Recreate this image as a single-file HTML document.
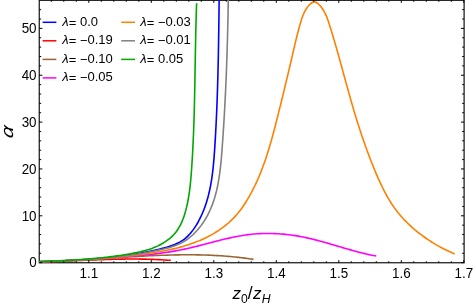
<!DOCTYPE html>
<html><head><meta charset="utf-8"><title>plot</title>
<style>html,body{margin:0;padding:0;background:#fff;}svg{display:block;will-change:transform;}text{font-family:"Liberation Sans",sans-serif;fill:#000;}</style></head>
<body>
<svg width="474" height="305" viewBox="0 0 474 305">
<rect width="474" height="305" fill="#fff"/>
<defs><clipPath id="c"><rect x="39.25" y="0.00" width="424.85" height="263.75"/></clipPath></defs>
<g stroke="#111" stroke-width="1.2" fill="none">
<rect x="39.25" y="0.30" width="424.85" height="262.45"/>
</g>
<g clip-path="url(#c)" fill="none" stroke-width="1.60" stroke-linejoin="round">
<path d="M39.46,261.70 C40.46,261.67 41.47,261.63 42.47,261.59 C43.48,261.55 44.48,261.52 45.48,261.48 C46.48,261.44 47.48,261.40 48.48,261.36 C49.48,261.32 50.48,261.29 51.48,261.25 C52.48,261.21 53.48,261.17 54.48,261.13 C55.47,261.09 56.47,261.05 57.47,261.00 C58.46,260.96 59.46,260.92 60.45,260.88 C61.45,260.84 62.44,260.79 63.44,260.75 C64.43,260.70 65.42,260.66 66.42,260.61 C67.41,260.56 68.40,260.52 69.39,260.47 C70.38,260.42 71.37,260.37 72.36,260.32 C73.35,260.27 74.34,260.21 75.33,260.16 C76.32,260.11 77.31,260.05 78.30,259.99 C79.29,259.94 80.28,259.88 81.27,259.82 C82.25,259.76 83.24,259.70 84.23,259.63 C85.21,259.57 86.20,259.50 87.19,259.44 C88.17,259.37 89.16,259.30 90.14,259.23 C91.13,259.16 92.12,259.08 93.10,259.01 C94.09,258.93 95.07,258.86 96.05,258.78 C97.04,258.69 98.02,258.61 99.01,258.53 C99.99,258.44 100.97,258.36 101.96,258.27 C102.94,258.18 103.92,258.08 104.91,257.99 C105.89,257.89 106.87,257.80 107.85,257.69 C108.84,257.59 109.82,257.49 110.80,257.38 C111.78,257.28 112.77,257.17 113.75,257.06 C114.73,256.94 115.71,256.83 116.69,256.71 C117.68,256.59 118.66,256.47 119.64,256.34 C120.62,256.22 121.60,256.09 122.59,255.96 C123.57,255.83 124.55,255.69 125.53,255.55 C126.51,255.41 127.49,255.27 128.48,255.13 C129.46,254.98 130.44,254.83 131.42,254.68 C132.40,254.52 133.38,254.36 134.37,254.20 C135.35,254.04 136.33,253.88 137.31,253.71 C138.30,253.54 139.28,253.36 140.26,253.19 C141.24,253.01 142.23,252.83 143.21,252.64 C144.19,252.45 145.17,252.26 146.16,252.07 C147.14,251.87 148.12,251.67 149.11,251.47 C150.09,251.27 151.07,251.06 152.06,250.84 C153.04,250.63 154.03,250.41 155.01,250.19 C156.00,249.97 156.98,249.74 157.97,249.51 C158.95,249.27 159.94,249.04 160.92,248.79 C161.91,248.55 162.90,248.30 163.88,248.04 C164.86,247.78 165.84,247.52 166.81,247.24 C167.78,246.95 168.75,246.66 169.71,246.35 C170.66,246.04 171.61,245.72 172.55,245.37 C173.48,245.02 174.41,244.66 175.32,244.27 C176.22,243.88 177.12,243.47 177.99,243.03 C178.87,242.59 179.73,242.13 180.57,241.63 C181.40,241.14 182.22,240.61 183.01,240.06 C183.81,239.50 184.58,238.91 185.32,238.29 C186.07,237.67 186.80,237.02 187.50,236.34 C188.21,235.67 188.89,234.96 189.55,234.24 C190.22,233.51 190.86,232.76 191.48,232.00 C192.11,231.23 192.71,230.44 193.30,229.64 C193.88,228.83 194.45,228.01 195.00,227.18 C195.55,226.34 196.09,225.49 196.60,224.64 C197.12,223.78 197.62,222.91 198.11,222.03 C198.59,221.16 199.06,220.28 199.52,219.39 C199.97,218.50 200.41,217.61 200.84,216.71 C201.27,215.82 201.68,214.91 202.08,214.01 C202.48,213.10 202.86,212.19 203.24,211.27 C203.61,210.36 203.97,209.44 204.32,208.51 C204.67,207.59 205.00,206.66 205.32,205.73 C205.65,204.80 205.96,203.86 206.26,202.92 C206.56,201.98 206.85,201.04 207.13,200.09 C207.41,199.14 207.67,198.19 207.93,197.24 C208.19,196.29 208.43,195.33 208.67,194.37 C208.91,193.41 209.14,192.45 209.35,191.48 C209.57,190.51 209.78,189.55 209.98,188.58 C210.18,187.60 210.37,186.63 210.56,185.65 C210.74,184.68 210.92,183.70 211.09,182.72 C211.25,181.74 211.41,180.75 211.57,179.77 C211.72,178.79 211.87,177.80 212.01,176.81 C212.15,175.82 212.28,174.83 212.41,173.84 C212.54,172.85 212.66,171.86 212.78,170.86 C212.89,169.87 213.00,168.87 213.11,167.88 C213.21,166.88 213.32,165.88 213.41,164.88 C213.51,163.88 213.60,162.88 213.69,161.89 C213.78,160.89 213.86,159.88 213.95,158.88 C214.03,157.88 214.11,156.88 214.18,155.88 C214.26,154.88 214.33,153.88 214.40,152.88 C214.47,151.88 214.54,150.87 214.61,149.87 C214.67,148.87 214.74,147.87 214.80,146.87 C214.87,145.87 214.93,144.87 214.99,143.87 C215.05,142.87 215.12,141.87 215.18,140.88 C215.24,139.88 215.29,138.88 215.35,137.88 C215.41,136.89 215.47,135.89 215.52,134.89 C215.58,133.90 215.63,132.90 215.69,131.90 C215.74,130.91 215.80,129.91 215.85,128.92 C215.90,127.93 215.95,126.93 216.00,125.94 C216.05,124.94 216.10,123.95 216.15,122.96 C216.20,121.96 216.25,120.97 216.29,119.98 C216.34,118.99 216.39,117.99 216.43,117.00 C216.48,116.01 216.52,115.02 216.57,114.03 C216.61,113.04 216.65,112.05 216.69,111.05 C216.73,110.06 216.78,109.07 216.82,108.08 C216.86,107.09 216.90,106.10 216.93,105.11 C216.97,104.12 217.01,103.13 217.05,102.14 C217.09,101.16 217.12,100.17 217.16,99.18 C217.19,98.19 217.23,97.20 217.26,96.21 C217.30,95.22 217.33,94.23 217.36,93.25 C217.40,92.26 217.43,91.27 217.46,90.28 C217.49,89.29 217.52,88.30 217.55,87.32 C217.58,86.33 217.61,85.34 217.64,84.35 C217.67,83.36 217.70,82.38 217.73,81.39 C217.76,80.40 217.78,79.41 217.81,78.42 C217.84,77.44 217.86,76.45 217.89,75.46 C217.92,74.47 217.94,73.48 217.97,72.50 C217.99,71.51 218.01,70.52 218.04,69.53 C218.06,68.54 218.08,67.56 218.11,66.57 C218.13,65.58 218.15,64.59 218.17,63.60 C218.20,62.61 218.22,61.63 218.24,60.64 C218.26,59.65 218.28,58.66 218.30,57.67 C218.32,56.68 218.34,55.69 218.36,54.70 C218.38,53.71 218.39,52.72 218.41,51.73 C218.43,50.74 218.45,49.75 218.47,48.76 C218.48,47.77 218.50,46.78 218.52,45.79 C218.53,44.80 218.55,43.81 218.57,42.82 C218.58,41.83 218.60,40.83 218.62,39.84 C218.63,38.85 218.65,37.86 218.66,36.86 C218.68,35.87 218.69,34.88 218.71,33.89 C218.72,32.89 218.73,31.90 218.75,30.90 C218.76,29.91 218.78,28.92 218.79,27.92 C218.80,26.93 218.82,25.93 218.83,24.93 C218.84,23.94 218.86,22.94 218.87,21.95 C218.88,20.95 218.90,19.95 218.91,18.96 C218.92,17.96 218.93,16.96 218.95,15.96 C218.96,14.96 218.97,13.96 218.98,12.96 C218.99,11.96 219.01,10.96 219.02,9.96 C219.03,8.96 219.04,7.96 219.05,6.96 C219.07,5.96 219.08,4.96 219.09,3.95 C219.10,2.95 219.11,1.95 219.13,0.94 C219.14,-0.06 219.15,-1.07 219.16,-2.07" stroke="#0000ff"/>
<path d="M39.50,261.87 C40.50,261.85 41.49,261.83 42.48,261.81 C43.47,261.79 44.47,261.76 45.46,261.74 C46.45,261.71 47.45,261.69 48.44,261.66 C49.44,261.63 50.43,261.60 51.42,261.57 C52.42,261.54 53.41,261.51 54.40,261.48 C55.40,261.45 56.39,261.41 57.39,261.38 C58.38,261.35 59.37,261.31 60.37,261.27 C61.36,261.24 62.35,261.20 63.35,261.16 C64.34,261.13 65.34,261.09 66.33,261.05 C67.32,261.01 68.32,260.97 69.31,260.93 C70.31,260.89 71.30,260.85 72.30,260.81 C73.29,260.77 74.28,260.73 75.28,260.69 C76.27,260.65 77.27,260.60 78.26,260.56 C79.26,260.52 80.25,260.48 81.24,260.44 C82.24,260.40 83.23,260.36 84.23,260.32 C85.22,260.28 86.22,260.23 87.21,260.19 C88.21,260.15 89.20,260.11 90.19,260.07 C91.19,260.03 92.18,260.00 93.18,259.96 C94.17,259.92 95.17,259.88 96.16,259.84 C97.16,259.81 98.15,259.77 99.15,259.73 C100.14,259.70 101.13,259.66 102.13,259.63 C103.12,259.60 104.12,259.56 105.11,259.53 C106.11,259.50 107.10,259.47 108.10,259.44 C109.09,259.41 110.09,259.38 111.08,259.36 C112.07,259.33 113.07,259.30 114.06,259.28 C115.06,259.26 116.05,259.23 117.05,259.21 C118.04,259.19 119.04,259.17 120.03,259.16 C121.02,259.14 122.02,259.12 123.01,259.11 C124.01,259.09 125.00,259.08 126.00,259.07 C126.99,259.06 127.98,259.06 128.98,259.05 C129.97,259.04 130.97,259.04 131.96,259.04 C132.96,259.04 133.95,259.04 134.94,259.04 C135.94,259.04 136.93,259.05 137.93,259.06 C138.92,259.07 139.91,259.08 140.91,259.09 C141.90,259.10 142.90,259.12 143.89,259.14 C144.88,259.16 145.88,259.18 146.87,259.20 C147.86,259.23 148.86,259.26 149.85,259.29 C150.85,259.32 151.84,259.35 152.83,259.39 C153.83,259.42 154.82,259.46 155.81,259.51 C156.81,259.55 157.80,259.59 158.79,259.64 C159.79,259.69 160.78,259.75 161.77,259.80 C162.77,259.86 163.76,259.92 164.75,259.98 C165.74,260.05 166.74,260.12 167.73,260.19 C168.72,260.26 169.72,260.34 170.71,260.41" stroke="#ff0000"/>
<path d="M39.52,261.73 C40.51,261.71 41.50,261.70 42.49,261.68 C43.48,261.66 44.47,261.64 45.46,261.61 C46.45,261.59 47.44,261.56 48.43,261.53 C49.42,261.51 50.41,261.48 51.40,261.45 C52.39,261.41 53.38,261.38 54.37,261.35 C55.36,261.31 56.35,261.27 57.35,261.24 C58.34,261.20 59.33,261.16 60.32,261.12 C61.31,261.08 62.30,261.03 63.29,260.99 C64.28,260.94 65.27,260.90 66.26,260.85 C67.25,260.80 68.24,260.76 69.23,260.71 C70.22,260.66 71.22,260.61 72.21,260.55 C73.20,260.50 74.19,260.45 75.18,260.39 C76.17,260.34 77.16,260.28 78.15,260.23 C79.14,260.17 80.13,260.12 81.12,260.06 C82.12,260.00 83.11,259.94 84.10,259.88 C85.09,259.82 86.08,259.76 87.07,259.70 C88.06,259.64 89.05,259.58 90.04,259.51 C91.03,259.45 92.03,259.39 93.02,259.33 C94.01,259.26 95.00,259.20 95.99,259.13 C96.98,259.07 97.97,259.01 98.96,258.94 C99.95,258.88 100.95,258.81 101.94,258.74 C102.93,258.68 103.92,258.61 104.91,258.55 C105.90,258.48 106.89,258.42 107.88,258.35 C108.88,258.28 109.87,258.22 110.86,258.15 C111.85,258.09 112.84,258.02 113.83,257.95 C114.82,257.89 115.81,257.82 116.81,257.76 C117.80,257.69 118.79,257.63 119.78,257.56 C120.77,257.50 121.76,257.43 122.75,257.37 C123.74,257.31 124.74,257.24 125.73,257.18 C126.72,257.12 127.71,257.05 128.70,256.99 C129.69,256.93 130.68,256.87 131.68,256.81 C132.67,256.75 133.66,256.69 134.65,256.63 C135.64,256.57 136.63,256.51 137.62,256.46 C138.61,256.40 139.61,256.34 140.60,256.29 C141.59,256.23 142.58,256.18 143.57,256.12 C144.56,256.07 145.55,256.02 146.54,255.97 C147.54,255.92 148.53,255.87 149.52,255.82 C150.51,255.77 151.50,255.72 152.49,255.68 C153.48,255.63 154.47,255.59 155.47,255.54 C156.46,255.50 157.45,255.46 158.44,255.42 C159.43,255.38 160.42,255.34 161.41,255.30 C162.40,255.27 163.40,255.23 164.39,255.20 C165.38,255.16 166.37,255.13 167.36,255.10 C168.35,255.07 169.34,255.04 170.33,255.02 C171.32,254.99 172.32,254.97 173.31,254.94 C174.30,254.92 175.29,254.90 176.28,254.88 C177.27,254.87 178.26,254.85 179.25,254.84 C180.24,254.82 181.24,254.81 182.23,254.80 C183.22,254.79 184.21,254.78 185.20,254.78 C186.19,254.78 187.18,254.77 188.17,254.77 C189.16,254.77 190.15,254.78 191.14,254.78 C192.14,254.79 193.13,254.79 194.12,254.80 C195.11,254.82 196.10,254.83 197.09,254.84 C198.08,254.86 199.07,254.88 200.06,254.90 C201.05,254.92 202.04,254.95 203.03,254.97 C204.02,255.00 205.01,255.03 206.00,255.06 C207.00,255.10 207.99,255.13 208.98,255.17 C209.97,255.21 210.96,255.26 211.95,255.30 C212.94,255.35 213.93,255.40 214.92,255.45 C215.91,255.50 216.90,255.56 217.89,255.62 C218.88,255.67 219.87,255.74 220.86,255.80 C221.85,255.87 222.84,255.94 223.83,256.01 C224.82,256.08 225.81,256.16 226.80,256.24 C227.79,256.32 228.78,256.41 229.77,256.49 C230.76,256.58 231.75,256.67 232.74,256.77 C233.73,256.86 234.72,256.96 235.71,257.07 C236.70,257.17 237.69,257.28 238.68,257.39 C239.67,257.50 240.66,257.61 241.65,257.73 C242.64,257.85 243.63,257.98 244.62,258.10 C245.61,258.23 246.60,258.36 247.59,258.50 C248.58,258.64 249.57,258.78 250.56,258.92 C251.55,259.07 252.53,259.22 253.52,259.37" stroke="#996633"/>
<path d="M39.51,261.75 C40.50,261.72 41.48,261.69 42.47,261.66 C43.46,261.62 44.45,261.59 45.44,261.56 C46.43,261.52 47.41,261.48 48.40,261.45 C49.39,261.41 50.38,261.37 51.37,261.33 C52.36,261.29 53.35,261.25 54.34,261.21 C55.33,261.17 56.32,261.13 57.31,261.09 C58.30,261.04 59.29,261.00 60.28,260.95 C61.27,260.91 62.26,260.86 63.25,260.81 C64.24,260.77 65.23,260.72 66.22,260.67 C67.21,260.62 68.20,260.57 69.19,260.52 C70.18,260.47 71.17,260.42 72.16,260.36 C73.15,260.31 74.15,260.26 75.14,260.20 C76.13,260.15 77.12,260.09 78.11,260.04 C79.10,259.98 80.09,259.92 81.08,259.86 C82.07,259.80 83.06,259.74 84.05,259.68 C85.05,259.62 86.04,259.56 87.03,259.50 C88.02,259.44 89.01,259.38 90.00,259.31 C90.99,259.25 91.98,259.19 92.97,259.12 C93.96,259.05 94.95,258.99 95.94,258.92 C96.93,258.85 97.92,258.79 98.91,258.72 C99.91,258.65 100.90,258.58 101.89,258.51 C102.88,258.44 103.87,258.37 104.86,258.30 C105.85,258.23 106.84,258.15 107.83,258.08 C108.82,258.01 109.81,257.93 110.79,257.86 C111.78,257.78 112.77,257.71 113.76,257.63 C114.75,257.56 115.74,257.48 116.73,257.40 C117.72,257.32 118.71,257.24 119.70,257.17 C120.68,257.09 121.67,257.01 122.66,256.93 C123.65,256.85 124.64,256.77 125.62,256.68 C126.61,256.60 127.60,256.52 128.59,256.44 C129.57,256.35 130.56,256.27 131.55,256.18 C132.54,256.10 133.52,256.01 134.51,255.93 C135.49,255.84 136.48,255.75 137.47,255.67 C138.45,255.58 139.44,255.49 140.42,255.39 C141.41,255.30 142.39,255.21 143.38,255.11 C144.36,255.02 145.34,254.92 146.33,254.82 C147.31,254.72 148.30,254.62 149.28,254.51 C150.26,254.41 151.24,254.30 152.23,254.19 C153.21,254.08 154.19,253.97 155.17,253.85 C156.15,253.74 157.13,253.62 158.12,253.50 C159.10,253.37 160.08,253.25 161.06,253.12 C162.03,252.99 163.01,252.86 163.99,252.72 C164.97,252.58 165.95,252.44 166.93,252.29 C167.90,252.15 168.88,252.00 169.86,251.84 C170.84,251.69 171.81,251.53 172.79,251.36 C173.76,251.20 174.74,251.03 175.71,250.86 C176.69,250.68 177.66,250.50 178.63,250.32 C179.61,250.13 180.58,249.94 181.55,249.75 C182.52,249.55 183.49,249.35 184.47,249.14 C185.44,248.93 186.41,248.72 187.38,248.50 C188.35,248.28 189.31,248.06 190.28,247.83 C191.25,247.61 192.22,247.37 193.19,247.14 C194.16,246.90 195.12,246.67 196.09,246.42 C197.06,246.18 198.02,245.94 198.99,245.69 C199.96,245.45 200.92,245.20 201.89,244.95 C202.86,244.70 203.82,244.45 204.79,244.20 C205.75,243.95 206.72,243.69 207.68,243.44 C208.65,243.19 209.61,242.93 210.58,242.68 C211.55,242.43 212.51,242.18 213.48,241.93 C214.44,241.68 215.41,241.43 216.37,241.18 C217.34,240.94 218.31,240.69 219.27,240.45 C220.24,240.21 221.20,239.97 222.17,239.73 C223.14,239.49 224.10,239.26 225.07,239.03 C226.04,238.80 227.01,238.58 227.97,238.36 C228.94,238.14 229.91,237.92 230.88,237.71 C231.85,237.50 232.82,237.29 233.79,237.09 C234.76,236.90 235.73,236.70 236.70,236.52 C237.67,236.33 238.64,236.15 239.61,235.98 C240.58,235.81 241.56,235.64 242.53,235.49 C243.50,235.33 244.48,235.18 245.45,235.04 C246.43,234.90 247.40,234.77 248.38,234.65 C249.36,234.53 250.33,234.42 251.31,234.31 C252.29,234.21 253.27,234.12 254.25,234.03 C255.23,233.95 256.21,233.87 257.19,233.81 C258.17,233.74 259.15,233.68 260.13,233.64 C261.12,233.59 262.10,233.55 263.08,233.52 C264.06,233.49 265.05,233.47 266.03,233.46 C267.01,233.44 267.99,233.44 268.98,233.45 C269.96,233.45 270.95,233.47 271.93,233.49 C272.91,233.51 273.90,233.54 274.88,233.58 C275.86,233.62 276.85,233.67 277.83,233.73 C278.81,233.79 279.80,233.85 280.78,233.93 C281.76,234.00 282.74,234.08 283.73,234.17 C284.71,234.26 285.69,234.36 286.67,234.47 C287.65,234.58 288.63,234.69 289.61,234.82 C290.59,234.94 291.57,235.07 292.55,235.21 C293.53,235.35 294.51,235.50 295.49,235.65 C296.46,235.81 297.44,235.97 298.41,236.14 C299.39,236.32 300.37,236.50 301.34,236.68 C302.31,236.87 303.29,237.06 304.26,237.27 C305.23,237.47 306.20,237.68 307.17,237.89 C308.14,238.11 309.11,238.33 310.08,238.55 C311.05,238.78 312.01,239.02 312.98,239.25 C313.95,239.49 314.91,239.74 315.88,239.98 C316.84,240.23 317.81,240.49 318.77,240.74 C319.74,241.00 320.70,241.26 321.66,241.52 C322.62,241.79 323.59,242.06 324.55,242.33 C325.51,242.60 326.47,242.87 327.43,243.14 C328.39,243.42 329.35,243.70 330.31,243.98 C331.27,244.26 332.23,244.54 333.19,244.82 C334.15,245.10 335.10,245.38 336.06,245.66 C337.02,245.95 337.98,246.23 338.94,246.51 C339.89,246.80 340.85,247.08 341.81,247.36 C342.76,247.64 343.72,247.92 344.68,248.20 C345.63,248.48 346.59,248.76 347.55,249.04 C348.50,249.31 349.46,249.58 350.42,249.86 C351.37,250.13 352.33,250.39 353.28,250.66 C354.24,250.92 355.20,251.19 356.15,251.44 C357.11,251.70 358.06,251.96 359.02,252.20 C359.98,252.45 360.93,252.70 361.89,252.94 C362.85,253.18 363.80,253.41 364.76,253.64 C365.72,253.87 366.67,254.09 367.63,254.31 C368.59,254.52 369.55,254.73 370.51,254.94 C371.46,255.14 372.42,255.34 373.38,255.53 C374.34,255.71 375.30,255.89 376.26,256.07" stroke="#ff00ff"/>
<path d="M39.50,261.71 C40.49,261.68 41.49,261.64 42.48,261.60 C43.48,261.57 44.48,261.53 45.47,261.49 C46.47,261.46 47.47,261.42 48.46,261.38 C49.46,261.34 50.46,261.30 51.45,261.27 C52.45,261.23 53.44,261.19 54.44,261.15 C55.44,261.11 56.43,261.07 57.43,261.03 C58.42,260.99 59.42,260.94 60.41,260.90 C61.41,260.86 62.41,260.82 63.40,260.77 C64.40,260.73 65.39,260.68 66.39,260.64 C67.38,260.59 68.38,260.55 69.37,260.50 C70.37,260.45 71.36,260.41 72.36,260.36 C73.35,260.31 74.35,260.26 75.34,260.21 C76.34,260.16 77.33,260.10 78.32,260.05 C79.32,260.00 80.31,259.94 81.31,259.89 C82.30,259.83 83.30,259.78 84.29,259.72 C85.28,259.66 86.28,259.60 87.27,259.54 C88.26,259.48 89.26,259.42 90.25,259.35 C91.25,259.29 92.24,259.23 93.23,259.16 C94.23,259.09 95.22,259.02 96.21,258.96 C97.20,258.89 98.20,258.81 99.19,258.74 C100.18,258.67 101.17,258.60 102.17,258.52 C103.16,258.44 104.15,258.37 105.14,258.29 C106.14,258.21 107.13,258.13 108.12,258.04 C109.11,257.96 110.10,257.87 111.09,257.79 C112.09,257.70 113.08,257.61 114.07,257.52 C115.06,257.43 116.05,257.34 117.04,257.24 C118.03,257.15 119.02,257.05 120.01,256.95 C121.00,256.85 122.00,256.75 122.99,256.65 C123.98,256.54 124.97,256.44 125.96,256.33 C126.95,256.22 127.94,256.11 128.92,256.00 C129.91,255.88 130.90,255.77 131.89,255.65 C132.88,255.53 133.87,255.41 134.86,255.29 C135.85,255.17 136.84,255.04 137.83,254.91 C138.81,254.79 139.80,254.66 140.79,254.52 C141.78,254.39 142.77,254.25 143.75,254.11 C144.74,253.98 145.73,253.83 146.72,253.69 C147.70,253.55 148.69,253.40 149.68,253.25 C150.66,253.10 151.65,252.95 152.64,252.79 C153.62,252.63 154.61,252.47 155.60,252.31 C156.58,252.15 157.57,251.98 158.55,251.81 C159.53,251.64 160.52,251.46 161.50,251.28 C162.48,251.10 163.46,250.92 164.44,250.73 C165.42,250.54 166.40,250.34 167.38,250.14 C168.35,249.94 169.33,249.74 170.30,249.52 C171.28,249.31 172.25,249.09 173.22,248.87 C174.19,248.64 175.16,248.41 176.12,248.17 C177.09,247.94 178.06,247.69 179.02,247.44 C179.98,247.18 180.94,246.92 181.90,246.66 C182.85,246.39 183.81,246.11 184.76,245.83 C185.71,245.54 186.66,245.25 187.61,244.95 C188.55,244.65 189.50,244.34 190.44,244.02 C191.38,243.70 192.32,243.37 193.25,243.03 C194.18,242.69 195.11,242.34 196.04,241.99 C196.97,241.63 197.89,241.26 198.81,240.88 C199.73,240.50 200.64,240.11 201.56,239.71 C202.47,239.31 203.37,238.90 204.28,238.47 C205.18,238.05 206.08,237.62 206.97,237.17 C207.86,236.73 208.75,236.27 209.63,235.80 C210.51,235.33 211.38,234.85 212.25,234.36 C213.12,233.87 213.98,233.37 214.83,232.85 C215.68,232.34 216.53,231.81 217.37,231.27 C218.20,230.73 219.03,230.18 219.85,229.61 C220.67,229.05 221.49,228.47 222.29,227.88 C223.09,227.29 223.89,226.69 224.67,226.08 C225.45,225.46 226.22,224.83 226.99,224.19 C227.75,223.55 228.50,222.90 229.24,222.23 C229.98,221.57 230.71,220.89 231.43,220.20 C232.15,219.51 232.85,218.81 233.55,218.09 C234.24,217.37 234.92,216.65 235.59,215.91 C236.26,215.17 236.92,214.42 237.56,213.65 C238.20,212.89 238.83,212.11 239.45,211.33 C240.06,210.54 240.66,209.74 241.25,208.94 C241.84,208.13 242.42,207.31 242.98,206.49 C243.55,205.66 244.10,204.83 244.64,203.99 C245.19,203.15 245.72,202.31 246.25,201.46 C246.77,200.61 247.29,199.76 247.80,198.90 C248.31,198.04 248.81,197.18 249.30,196.32 C249.79,195.45 250.27,194.59 250.75,193.71 C251.23,192.84 251.69,191.97 252.16,191.09 C252.62,190.21 253.07,189.32 253.51,188.44 C253.96,187.55 254.40,186.66 254.83,185.77 C255.26,184.88 255.69,183.98 256.10,183.08 C256.52,182.18 256.93,181.28 257.34,180.37 C257.74,179.47 258.14,178.56 258.53,177.65 C258.92,176.74 259.31,175.82 259.69,174.90 C260.06,173.99 260.44,173.07 260.81,172.15 C261.17,171.22 261.53,170.30 261.89,169.37 C262.25,168.44 262.60,167.51 262.94,166.58 C263.29,165.65 263.63,164.72 263.96,163.78 C264.30,162.84 264.63,161.90 264.96,160.96 C265.28,160.02 265.60,159.08 265.92,158.14 C266.24,157.19 266.55,156.24 266.86,155.30 C267.16,154.35 267.47,153.40 267.77,152.45 C268.07,151.50 268.36,150.54 268.66,149.59 C268.95,148.63 269.24,147.68 269.52,146.72 C269.81,145.76 270.09,144.80 270.37,143.84 C270.65,142.88 270.92,141.92 271.20,140.96 C271.47,140.00 271.74,139.04 272.01,138.07 C272.27,137.11 272.54,136.14 272.80,135.18 C273.06,134.21 273.32,133.25 273.58,132.28 C273.84,131.31 274.09,130.34 274.35,129.38 C274.60,128.41 274.86,127.44 275.11,126.47 C275.36,125.50 275.61,124.53 275.85,123.56 C276.10,122.59 276.35,121.62 276.59,120.65 C276.84,119.69 277.08,118.72 277.33,117.75 C277.57,116.78 277.81,115.81 278.06,114.84 C278.30,113.87 278.54,112.90 278.78,111.93 C279.02,110.96 279.26,109.99 279.50,109.03 C279.74,108.06 279.98,107.09 280.22,106.12 C280.46,105.15 280.70,104.19 280.94,103.22 C281.18,102.25 281.42,101.28 281.65,100.31 C281.89,99.35 282.13,98.38 282.36,97.41 C282.60,96.45 282.84,95.48 283.07,94.51 C283.31,93.55 283.54,92.58 283.78,91.61 C284.01,90.65 284.25,89.68 284.48,88.71 C284.71,87.75 284.95,86.78 285.18,85.81 C285.41,84.85 285.64,83.88 285.88,82.91 C286.11,81.95 286.34,80.98 286.57,80.01 C286.80,79.05 287.03,78.08 287.26,77.12 C287.49,76.15 287.72,75.18 287.95,74.22 C288.18,73.25 288.41,72.28 288.64,71.32 C288.87,70.35 289.09,69.38 289.32,68.42 C289.55,67.45 289.78,66.49 290.00,65.52 C290.23,64.55 290.46,63.59 290.68,62.62 C290.91,61.65 291.14,60.69 291.36,59.72 C291.59,58.75 291.81,57.78 292.04,56.82 C292.26,55.85 292.48,54.88 292.71,53.91 C292.93,52.95 293.16,51.98 293.38,51.01 C293.60,50.04 293.83,49.08 294.05,48.11 C294.28,47.14 294.51,46.17 294.73,45.20 C294.96,44.24 295.19,43.27 295.42,42.30 C295.65,41.33 295.89,40.36 296.12,39.40 C296.36,38.43 296.60,37.46 296.84,36.49 C297.08,35.52 297.33,34.56 297.57,33.59 C297.82,32.62 298.07,31.65 298.33,30.69 C298.59,29.72 298.85,28.75 299.11,27.78 C299.38,26.82 299.64,25.85 299.92,24.88 C300.19,23.92 300.47,22.95 300.76,21.98 C301.05,21.02 301.34,20.05 301.65,19.10 C301.97,18.14 302.29,17.19 302.65,16.25 C303.00,15.32 303.37,14.39 303.78,13.48 C304.19,12.57 304.63,11.67 305.11,10.80 C305.59,9.92 306.11,9.07 306.68,8.24 C307.25,7.41 307.86,6.60 308.53,5.84 C309.20,5.07 309.91,4.27 310.70,3.65 C311.45,3.05 312.27,2.39 313.11,2.14 C313.91,1.91 314.81,1.91 315.60,2.13 C316.44,2.37 317.26,3.02 318.01,3.62 C318.80,4.25 319.52,5.08 320.20,5.86 C320.88,6.64 321.51,7.46 322.11,8.29 C322.69,9.12 323.24,9.97 323.75,10.84 C324.26,11.70 324.72,12.58 325.17,13.48 C325.61,14.37 326.01,15.28 326.40,16.19 C326.79,17.11 327.15,18.04 327.49,18.97 C327.84,19.90 328.16,20.84 328.48,21.79 C328.80,22.73 329.11,23.68 329.41,24.63 C329.71,25.58 330.01,26.53 330.31,27.48 C330.61,28.44 330.90,29.39 331.20,30.34 C331.49,31.29 331.78,32.25 332.07,33.20 C332.36,34.16 332.65,35.11 332.94,36.06 C333.22,37.02 333.51,37.98 333.79,38.93 C334.07,39.89 334.36,40.84 334.64,41.80 C334.92,42.76 335.19,43.72 335.47,44.67 C335.75,45.63 336.02,46.59 336.30,47.55 C336.57,48.51 336.84,49.46 337.12,50.42 C337.39,51.38 337.66,52.34 337.93,53.30 C338.20,54.26 338.47,55.22 338.74,56.18 C339.00,57.14 339.27,58.10 339.54,59.06 C339.80,60.02 340.07,60.98 340.33,61.95 C340.60,62.91 340.86,63.87 341.13,64.83 C341.39,65.79 341.66,66.75 341.92,67.71 C342.18,68.67 342.45,69.63 342.71,70.60 C342.97,71.56 343.23,72.52 343.50,73.48 C343.76,74.44 344.02,75.40 344.28,76.36 C344.55,77.33 344.81,78.29 345.07,79.25 C345.34,80.21 345.60,81.17 345.86,82.13 C346.13,83.09 346.39,84.05 346.65,85.01 C346.92,85.97 347.18,86.93 347.45,87.89 C347.71,88.85 347.98,89.81 348.25,90.77 C348.51,91.73 348.78,92.69 349.05,93.65 C349.32,94.61 349.59,95.57 349.86,96.53 C350.13,97.48 350.40,98.44 350.67,99.40 C350.94,100.36 351.22,101.31 351.49,102.27 C351.77,103.23 352.04,104.18 352.32,105.14 C352.60,106.09 352.88,107.05 353.16,108.00 C353.44,108.96 353.72,109.91 354.00,110.87 C354.29,111.82 354.57,112.77 354.86,113.73 C355.15,114.68 355.44,115.63 355.73,116.58 C356.02,117.53 356.31,118.48 356.60,119.43 C356.90,120.38 357.20,121.33 357.49,122.28 C357.79,123.23 358.09,124.18 358.39,125.12 C358.70,126.07 359.00,127.02 359.31,127.96 C359.61,128.91 359.92,129.86 360.23,130.80 C360.54,131.75 360.86,132.69 361.17,133.63 C361.49,134.58 361.80,135.52 362.12,136.46 C362.44,137.40 362.76,138.34 363.09,139.29 C363.41,140.23 363.74,141.17 364.07,142.11 C364.39,143.04 364.73,143.98 365.06,144.92 C365.39,145.86 365.73,146.80 366.07,147.73 C366.40,148.67 366.75,149.60 367.09,150.54 C367.43,151.47 367.78,152.41 368.13,153.34 C368.47,154.28 368.83,155.21 369.18,156.14 C369.53,157.07 369.89,158.00 370.25,158.94 C370.61,159.87 370.97,160.80 371.33,161.72 C371.70,162.65 372.07,163.58 372.44,164.51 C372.81,165.44 373.18,166.36 373.55,167.29 C373.93,168.22 374.31,169.14 374.69,170.07 C375.07,170.99 375.46,171.91 375.85,172.84 C376.23,173.76 376.62,174.68 377.02,175.60 C377.42,176.52 377.82,177.44 378.22,178.35 C378.62,179.27 379.03,180.18 379.45,181.09 C379.86,182.00 380.28,182.91 380.70,183.81 C381.13,184.72 381.56,185.62 382.00,186.52 C382.43,187.42 382.87,188.31 383.32,189.20 C383.77,190.09 384.23,190.98 384.69,191.86 C385.16,192.74 385.63,193.62 386.11,194.49 C386.59,195.36 387.07,196.23 387.57,197.09 C388.06,197.96 388.56,198.81 389.08,199.66 C389.59,200.51 390.11,201.36 390.64,202.20 C391.17,203.03 391.71,203.87 392.26,204.69 C392.81,205.52 393.37,206.34 393.94,207.15 C394.51,207.96 395.09,208.76 395.68,209.56 C396.27,210.35 396.88,211.14 397.49,211.92 C398.11,212.70 398.73,213.47 399.37,214.23 C400.00,215.00 400.65,215.75 401.31,216.50 C401.96,217.25 402.63,217.99 403.31,218.72 C403.98,219.45 404.67,220.17 405.36,220.89 C406.06,221.60 406.76,222.31 407.47,223.01 C408.19,223.71 408.91,224.40 409.63,225.08 C410.36,225.76 411.10,226.44 411.84,227.11 C412.59,227.77 413.34,228.43 414.10,229.08 C414.86,229.73 415.62,230.37 416.39,231.01 C417.16,231.64 417.94,232.27 418.73,232.88 C419.51,233.50 420.30,234.11 421.10,234.71 C421.89,235.31 422.69,235.91 423.50,236.49 C424.31,237.08 425.12,237.65 425.94,238.22 C426.75,238.79 427.58,239.35 428.41,239.90 C429.23,240.45 430.07,241.00 430.91,241.53 C431.74,242.07 432.59,242.60 433.44,243.12 C434.28,243.64 435.14,244.15 436.00,244.65 C436.85,245.15 437.72,245.65 438.59,246.13 C439.45,246.62 440.33,247.10 441.21,247.57 C442.08,248.04 442.96,248.50 443.85,248.95 C444.74,249.41 445.63,249.85 446.53,250.29 C447.42,250.73 448.32,251.15 449.23,251.57 C450.13,252.00 451.04,252.41 451.95,252.81 C452.86,253.22 453.79,253.60 454.70,254.00" stroke="#ff8000"/>
<path d="M39.49,261.70 C40.49,261.66 41.49,261.63 42.49,261.59 C43.50,261.56 44.50,261.52 45.50,261.49 C46.50,261.45 47.50,261.42 48.50,261.38 C49.51,261.34 50.51,261.31 51.51,261.27 C52.51,261.23 53.51,261.19 54.51,261.15 C55.51,261.11 56.51,261.07 57.51,261.03 C58.51,260.99 59.51,260.95 60.51,260.91 C61.51,260.86 62.51,260.82 63.51,260.77 C64.51,260.73 65.51,260.68 66.51,260.64 C67.50,260.59 68.50,260.54 69.50,260.49 C70.50,260.44 71.50,260.39 72.49,260.34 C73.49,260.29 74.49,260.23 75.49,260.18 C76.48,260.12 77.48,260.07 78.48,260.01 C79.47,259.95 80.47,259.89 81.47,259.83 C82.46,259.77 83.46,259.71 84.46,259.64 C85.45,259.58 86.45,259.51 87.44,259.44 C88.44,259.38 89.43,259.31 90.43,259.24 C91.42,259.16 92.42,259.09 93.41,259.01 C94.41,258.94 95.40,258.86 96.40,258.78 C97.39,258.70 98.38,258.62 99.38,258.54 C100.37,258.45 101.37,258.37 102.36,258.28 C103.35,258.19 104.34,258.10 105.34,258.00 C106.33,257.91 107.32,257.82 108.32,257.72 C109.31,257.62 110.30,257.52 111.29,257.42 C112.28,257.31 113.28,257.21 114.27,257.10 C115.26,256.99 116.25,256.88 117.24,256.76 C118.23,256.65 119.22,256.53 120.21,256.41 C121.20,256.29 122.19,256.17 123.18,256.05 C124.18,255.92 125.17,255.79 126.15,255.66 C127.14,255.53 128.13,255.39 129.12,255.26 C130.11,255.12 131.10,254.98 132.09,254.83 C133.08,254.69 134.07,254.54 135.06,254.39 C136.05,254.24 137.03,254.09 138.02,253.93 C139.01,253.77 140.00,253.61 140.99,253.44 C141.97,253.28 142.96,253.11 143.95,252.94 C144.94,252.77 145.92,252.59 146.91,252.41 C147.90,252.23 148.88,252.05 149.87,251.86 C150.86,251.68 151.84,251.49 152.83,251.29 C153.82,251.10 154.80,250.90 155.79,250.70 C156.77,250.49 157.76,250.29 158.74,250.08 C159.73,249.87 160.71,249.65 161.70,249.43 C162.68,249.21 163.66,248.99 164.64,248.75 C165.62,248.51 166.60,248.27 167.57,248.01 C168.55,247.76 169.52,247.49 170.48,247.20 C171.44,246.92 172.39,246.62 173.34,246.30 C174.29,245.98 175.22,245.64 176.15,245.28 C177.08,244.92 178.00,244.54 178.91,244.14 C179.81,243.73 180.71,243.30 181.59,242.84 C182.47,242.37 183.34,241.88 184.19,241.37 C185.05,240.85 185.89,240.30 186.71,239.73 C187.53,239.16 188.34,238.56 189.13,237.94 C189.93,237.32 190.70,236.67 191.46,236.01 C192.22,235.34 192.97,234.66 193.70,233.96 C194.42,233.25 195.14,232.53 195.83,231.80 C196.52,231.06 197.20,230.31 197.86,229.55 C198.52,228.79 199.16,228.01 199.78,227.23 C200.40,226.44 201.01,225.65 201.60,224.85 C202.18,224.04 202.75,223.23 203.30,222.41 C203.85,221.59 204.39,220.76 204.90,219.92 C205.42,219.09 205.92,218.24 206.41,217.39 C206.89,216.54 207.36,215.67 207.81,214.81 C208.27,213.94 208.70,213.06 209.13,212.18 C209.55,211.30 209.96,210.41 210.35,209.51 C210.74,208.61 211.12,207.71 211.49,206.80 C211.86,205.89 212.21,204.98 212.55,204.05 C212.89,203.13 213.21,202.20 213.53,201.27 C213.84,200.34 214.14,199.40 214.43,198.46 C214.72,197.51 215.00,196.56 215.27,195.61 C215.54,194.65 215.79,193.69 216.04,192.73 C216.29,191.77 216.52,190.80 216.75,189.83 C216.97,188.85 217.19,187.88 217.40,186.90 C217.60,185.92 217.80,184.94 217.99,183.95 C218.18,182.96 218.36,181.97 218.53,180.98 C218.71,179.98 218.87,178.99 219.03,177.99 C219.19,176.99 219.34,175.99 219.48,174.98 C219.62,173.98 219.76,172.97 219.89,171.97 C220.02,170.96 220.14,169.95 220.26,168.94 C220.38,167.92 220.50,166.91 220.61,165.90 C220.72,164.88 220.82,163.87 220.92,162.85 C221.02,161.84 221.12,160.82 221.21,159.80 C221.30,158.78 221.39,157.77 221.47,156.75 C221.56,155.73 221.64,154.71 221.72,153.69 C221.81,152.68 221.88,151.66 221.96,150.64 C222.04,149.63 222.11,148.61 222.19,147.59 C222.26,146.58 222.33,145.57 222.40,144.55 C222.48,143.54 222.55,142.53 222.62,141.52 C222.69,140.51 222.76,139.50 222.83,138.49 C222.90,137.48 222.97,136.48 223.03,135.47 C223.10,134.46 223.17,133.46 223.23,132.45 C223.30,131.45 223.36,130.44 223.43,129.44 C223.49,128.44 223.56,127.44 223.62,126.44 C223.68,125.44 223.74,124.44 223.81,123.44 C223.87,122.44 223.93,121.44 223.99,120.44 C224.05,119.44 224.11,118.45 224.16,117.45 C224.22,116.45 224.28,115.46 224.34,114.46 C224.39,113.47 224.45,112.47 224.51,111.48 C224.56,110.49 224.62,109.49 224.67,108.50 C224.72,107.51 224.78,106.52 224.83,105.52 C224.88,104.53 224.94,103.54 224.99,102.55 C225.04,101.56 225.09,100.57 225.14,99.58 C225.19,98.59 225.24,97.60 225.29,96.61 C225.34,95.62 225.38,94.63 225.43,93.64 C225.48,92.65 225.53,91.66 225.57,90.68 C225.62,89.69 225.66,88.70 225.71,87.71 C225.75,86.72 225.80,85.74 225.84,84.75 C225.89,83.76 225.93,82.77 225.97,81.79 C226.01,80.80 226.05,79.81 226.10,78.82 C226.14,77.84 226.18,76.85 226.22,75.86 C226.26,74.87 226.30,73.89 226.34,72.90 C226.38,71.91 226.41,70.92 226.45,69.94 C226.49,68.95 226.53,67.96 226.56,66.97 C226.60,65.98 226.64,65.00 226.67,64.01 C226.71,63.02 226.74,62.03 226.78,61.04 C226.81,60.05 226.84,59.06 226.88,58.07 C226.91,57.08 226.94,56.09 226.98,55.10 C227.01,54.11 227.04,53.12 227.07,52.13 C227.10,51.14 227.13,50.15 227.16,49.15 C227.19,48.16 227.22,47.17 227.25,46.17 C227.28,45.18 227.31,44.19 227.34,43.19 C227.37,42.20 227.40,41.20 227.42,40.21 C227.45,39.21 227.48,38.21 227.50,37.22 C227.53,36.22 227.56,35.22 227.58,34.22 C227.61,33.22 227.63,32.22 227.66,31.22 C227.68,30.22 227.71,29.22 227.73,28.22 C227.75,27.22 227.78,26.22 227.80,25.21 C227.82,24.21 227.85,23.20 227.87,22.20 C227.89,21.19 227.91,20.18 227.93,19.18 C227.95,18.17 227.98,17.16 228.00,16.15 C228.02,15.14 228.04,14.13 228.06,13.12 C228.08,12.11 228.10,11.09 228.11,10.08 C228.13,9.06 228.15,8.05 228.17,7.03 C228.19,6.02 228.21,5.00 228.22,3.98 C228.24,2.96 228.26,1.94 228.28,0.92 C228.29,-0.11 228.31,-1.13 228.33,-2.15" stroke="#808080"/>
<path d="M39.47,261.62 C40.49,261.58 41.50,261.54 42.51,261.50 C43.52,261.46 44.53,261.42 45.54,261.38 C46.55,261.33 47.55,261.29 48.56,261.25 C49.57,261.21 50.57,261.17 51.58,261.12 C52.58,261.08 53.58,261.04 54.58,260.99 C55.59,260.95 56.59,260.90 57.59,260.86 C58.59,260.81 59.59,260.76 60.58,260.72 C61.58,260.67 62.58,260.62 63.58,260.57 C64.57,260.52 65.57,260.47 66.56,260.41 C67.56,260.36 68.55,260.31 69.55,260.25 C70.54,260.20 71.53,260.14 72.53,260.08 C73.52,260.02 74.51,259.96 75.50,259.90 C76.49,259.84 77.49,259.77 78.48,259.71 C79.47,259.64 80.46,259.58 81.45,259.51 C82.44,259.44 83.43,259.37 84.42,259.29 C85.41,259.22 86.39,259.14 87.38,259.06 C88.37,258.98 89.36,258.90 90.35,258.82 C91.34,258.74 92.33,258.65 93.32,258.56 C94.30,258.47 95.29,258.38 96.28,258.29 C97.27,258.19 98.26,258.10 99.25,258.00 C100.23,257.90 101.22,257.80 102.21,257.69 C103.20,257.58 104.19,257.47 105.18,257.36 C106.17,257.25 107.16,257.13 108.15,257.02 C109.14,256.90 110.13,256.77 111.12,256.65 C112.11,256.52 113.10,256.39 114.09,256.26 C115.08,256.13 116.07,255.99 117.06,255.85 C118.06,255.71 119.05,255.56 120.04,255.42 C121.04,255.27 122.03,255.11 123.02,254.96 C124.02,254.80 125.01,254.64 126.01,254.47 C127.01,254.31 128.00,254.14 129.00,253.97 C130.00,253.79 131.00,253.61 131.99,253.43 C132.99,253.25 133.99,253.06 134.99,252.86 C135.98,252.66 136.98,252.46 137.97,252.25 C138.97,252.03 139.96,251.81 140.95,251.58 C141.93,251.35 142.92,251.10 143.90,250.85 C144.87,250.59 145.85,250.32 146.81,250.04 C147.78,249.76 148.74,249.46 149.70,249.15 C150.65,248.83 151.59,248.51 152.53,248.16 C153.47,247.81 154.40,247.45 155.31,247.07 C156.23,246.68 157.14,246.28 158.04,245.86 C158.93,245.43 159.82,244.99 160.69,244.52 C161.56,244.05 162.42,243.56 163.27,243.05 C164.11,242.54 164.94,242.01 165.76,241.45 C166.57,240.89 167.37,240.31 168.14,239.71 C168.92,239.11 169.68,238.49 170.42,237.84 C171.15,237.19 171.87,236.52 172.56,235.83 C173.25,235.14 173.92,234.43 174.56,233.69 C175.21,232.96 175.82,232.20 176.41,231.42 C177.00,230.64 177.56,229.84 178.10,229.01 C178.63,228.19 179.13,227.34 179.61,226.48 C180.09,225.62 180.55,224.74 180.98,223.84 C181.41,222.95 181.81,222.03 182.20,221.11 C182.59,220.19 182.95,219.25 183.30,218.31 C183.64,217.36 183.97,216.40 184.28,215.44 C184.59,214.48 184.89,213.51 185.17,212.54 C185.45,211.57 185.71,210.59 185.97,209.61 C186.22,208.63 186.46,207.65 186.69,206.67 C186.92,205.69 187.14,204.71 187.35,203.73 C187.56,202.74 187.76,201.76 187.95,200.77 C188.13,199.78 188.31,198.80 188.48,197.81 C188.65,196.82 188.81,195.83 188.96,194.84 C189.12,193.85 189.26,192.86 189.40,191.87 C189.53,190.87 189.66,189.88 189.79,188.89 C189.91,187.89 190.03,186.90 190.14,185.90 C190.25,184.91 190.35,183.91 190.45,182.92 C190.55,181.92 190.64,180.93 190.73,179.93 C190.83,178.93 190.91,177.93 190.99,176.94 C191.08,175.94 191.16,174.94 191.23,173.94 C191.31,172.94 191.38,171.95 191.46,170.95 C191.53,169.95 191.60,168.95 191.67,167.95 C191.74,166.96 191.80,165.96 191.87,164.96 C191.94,163.96 192.00,162.96 192.06,161.97 C192.13,160.97 192.19,159.97 192.25,158.97 C192.31,157.97 192.37,156.98 192.43,155.98 C192.48,154.98 192.54,153.98 192.59,152.98 C192.65,151.99 192.70,150.99 192.75,149.99 C192.81,148.99 192.86,147.99 192.91,147.00 C192.96,146.00 193.01,145.00 193.05,144.00 C193.10,143.00 193.15,142.01 193.19,141.01 C193.24,140.01 193.28,139.01 193.32,138.01 C193.37,137.02 193.41,136.02 193.45,135.02 C193.49,134.02 193.53,133.02 193.57,132.03 C193.61,131.03 193.64,130.03 193.68,129.03 C193.72,128.03 193.75,127.04 193.79,126.04 C193.82,125.04 193.86,124.04 193.89,123.04 C193.92,122.05 193.96,121.05 193.99,120.05 C194.02,119.05 194.05,118.05 194.08,117.06 C194.11,116.06 194.14,115.06 194.17,114.06 C194.20,113.07 194.22,112.07 194.25,111.07 C194.28,110.07 194.30,109.07 194.33,108.08 C194.36,107.08 194.38,106.08 194.40,105.08 C194.43,104.08 194.45,103.09 194.48,102.09 C194.50,101.09 194.52,100.09 194.55,99.09 C194.57,98.09 194.59,97.10 194.61,96.10 C194.63,95.10 194.65,94.10 194.67,93.10 C194.69,92.11 194.71,91.11 194.73,90.11 C194.75,89.11 194.77,88.11 194.79,87.12 C194.81,86.12 194.83,85.12 194.85,84.12 C194.87,83.12 194.88,82.12 194.90,81.13 C194.92,80.13 194.94,79.13 194.95,78.13 C194.97,77.13 194.99,76.13 195.01,75.14 C195.02,74.14 195.04,73.14 195.06,72.14 C195.07,71.14 195.09,70.14 195.11,69.15 C195.12,68.15 195.14,67.15 195.16,66.15 C195.17,65.15 195.19,64.15 195.21,63.15 C195.23,62.16 195.24,61.16 195.26,60.16 C195.28,59.16 195.29,58.16 195.31,57.16 C195.33,56.16 195.34,55.16 195.36,54.17 C195.38,53.17 195.40,52.17 195.41,51.17 C195.43,50.17 195.45,49.17 195.47,48.17 C195.49,47.17 195.50,46.17 195.52,45.18 C195.54,44.18 195.56,43.18 195.58,42.18 C195.60,41.18 195.62,40.18 195.64,39.18 C195.66,38.18 195.68,37.18 195.70,36.18 C195.72,35.18 195.74,34.19 195.77,33.19 C195.79,32.19 195.81,31.19 195.83,30.19 C195.86,29.19 195.88,28.19 195.90,27.19 C195.93,26.19 195.95,25.19 195.98,24.19 C196.00,23.19 196.03,22.19 196.06,21.19 C196.08,20.19 196.11,19.19 196.14,18.19 C196.17,17.19 196.19,16.19 196.22,15.19 C196.25,14.19 196.28,13.19 196.31,12.19 C196.35,11.19 196.38,10.19 196.41,9.19 C196.44,8.19 196.48,7.19 196.51,6.19 C196.54,5.19 196.58,4.19 196.62,3.19" stroke="#00a800"/>
</g>
<path d="M51.30,262.75 v-1.50 M51.30,0.30 v1.50 M63.80,262.75 v-1.50 M63.80,0.30 v1.50 M76.30,262.75 v-1.50 M76.30,0.30 v1.50 M88.80,262.75 v-2.60 M88.80,0.30 v2.60 M101.30,262.75 v-1.50 M101.30,0.30 v1.50 M113.80,262.75 v-1.50 M113.80,0.30 v1.50 M126.30,262.75 v-1.50 M126.30,0.30 v1.50 M138.80,262.75 v-1.50 M138.80,0.30 v1.50 M151.30,262.75 v-2.60 M151.30,0.30 v2.60 M163.80,262.75 v-1.50 M163.80,0.30 v1.50 M176.30,262.75 v-1.50 M176.30,0.30 v1.50 M188.80,262.75 v-1.50 M188.80,0.30 v1.50 M201.30,262.75 v-1.50 M201.30,0.30 v1.50 M213.80,262.75 v-2.60 M213.80,0.30 v2.60 M226.30,262.75 v-1.50 M226.30,0.30 v1.50 M238.80,262.75 v-1.50 M238.80,0.30 v1.50 M251.30,262.75 v-1.50 M251.30,0.30 v1.50 M263.80,262.75 v-1.50 M263.80,0.30 v1.50 M276.30,262.75 v-2.60 M276.30,0.30 v2.60 M288.80,262.75 v-1.50 M288.80,0.30 v1.50 M301.30,262.75 v-1.50 M301.30,0.30 v1.50 M313.80,262.75 v-1.50 M313.80,0.30 v1.50 M326.30,262.75 v-1.50 M326.30,0.30 v1.50 M338.80,262.75 v-2.60 M338.80,0.30 v2.60 M351.30,262.75 v-1.50 M351.30,0.30 v1.50 M363.80,262.75 v-1.50 M363.80,0.30 v1.50 M376.30,262.75 v-1.50 M376.30,0.30 v1.50 M388.80,262.75 v-1.50 M388.80,0.30 v1.50 M401.30,262.75 v-2.60 M401.30,0.30 v2.60 M413.80,262.75 v-1.50 M413.80,0.30 v1.50 M426.30,262.75 v-1.50 M426.30,0.30 v1.50 M438.80,262.75 v-1.50 M438.80,0.30 v1.50 M451.30,262.75 v-1.50 M451.30,0.30 v1.50 M463.80,262.75 v-2.60 M463.80,0.30 v2.60 M39.25,262.65 h3.10 M464.10,262.65 h-3.10 M39.25,253.28 h1.90 M464.10,253.28 h-1.90 M39.25,243.91 h1.90 M464.10,243.91 h-1.90 M39.25,234.54 h1.90 M464.10,234.54 h-1.90 M39.25,225.17 h1.90 M464.10,225.17 h-1.90 M39.25,215.80 h3.10 M464.10,215.80 h-3.10 M39.25,206.43 h1.90 M464.10,206.43 h-1.90 M39.25,197.06 h1.90 M464.10,197.06 h-1.90 M39.25,187.69 h1.90 M464.10,187.69 h-1.90 M39.25,178.32 h1.90 M464.10,178.32 h-1.90 M39.25,168.95 h3.10 M464.10,168.95 h-3.10 M39.25,159.58 h1.90 M464.10,159.58 h-1.90 M39.25,150.21 h1.90 M464.10,150.21 h-1.90 M39.25,140.84 h1.90 M464.10,140.84 h-1.90 M39.25,131.47 h1.90 M464.10,131.47 h-1.90 M39.25,122.10 h3.10 M464.10,122.10 h-3.10 M39.25,112.73 h1.90 M464.10,112.73 h-1.90 M39.25,103.36 h1.90 M464.10,103.36 h-1.90 M39.25,93.99 h1.90 M464.10,93.99 h-1.90 M39.25,84.62 h1.90 M464.10,84.62 h-1.90 M39.25,75.25 h3.10 M464.10,75.25 h-3.10 M39.25,65.88 h1.90 M464.10,65.88 h-1.90 M39.25,56.51 h1.90 M464.10,56.51 h-1.90 M39.25,47.14 h1.90 M464.10,47.14 h-1.90 M39.25,37.77 h1.90 M464.10,37.77 h-1.90 M39.25,28.40 h3.10 M464.10,28.40 h-3.10 M39.25,19.03 h1.90 M464.10,19.03 h-1.90 M39.25,9.66 h1.90 M464.10,9.66 h-1.90" stroke="#000" stroke-width="1" fill="none"/>
<g font-size="14.00" text-anchor="middle">
<text transform="translate(88.80,278.3) scale(0.96,1.11)">1.1</text>
<text transform="translate(151.30,278.3) scale(0.96,1.11)">1.2</text>
<text transform="translate(213.80,278.3) scale(0.96,1.11)">1.3</text>
<text transform="translate(276.30,278.3) scale(0.96,1.11)">1.4</text>
<text transform="translate(338.80,278.3) scale(0.96,1.11)">1.5</text>
<text transform="translate(401.30,278.3) scale(0.96,1.11)">1.6</text>
<text transform="translate(463.80,278.3) scale(0.96,1.11)">1.7</text>
</g>
<g font-size="14.00" text-anchor="end">
<text transform="translate(36.6,267.35) scale(0.96,1.11)">0</text>
<text transform="translate(36.6,220.50) scale(0.96,1.11)">10</text>
<text transform="translate(36.6,173.65) scale(0.96,1.11)">20</text>
<text transform="translate(36.6,126.80) scale(0.96,1.11)">30</text>
<text transform="translate(36.6,79.95) scale(0.96,1.11)">40</text>
<text transform="translate(36.6,33.10) scale(0.96,1.11)">50</text>
</g>
<text x="251.5" y="298.8" font-size="17" text-anchor="middle"><tspan font-style="italic">z</tspan><tspan font-size="12.2" dy="3.9">0</tspan><tspan dy="-3.9" font-size="17.5">/</tspan><tspan font-style="italic" dx="0.3">z</tspan><tspan font-size="12.2" dy="3.9" dx="0.3" font-style="italic">H</tspan></text>
<text transform="translate(13.2,133.2) rotate(-90) skewX(-16) scale(1.22,1)" font-size="17" font-style="italic" text-anchor="middle">α</text>
<path d="M42.60,22.30 h13.8" stroke="#0000ff" stroke-width="1.5" fill="none"/>
<text x="62.30" y="25.80" font-size="13.00" xml:space="preserve"><tspan font-style="italic">λ</tspan><tspan dy="0.8">= </tspan><tspan dy="-0.8">0.0</tspan></text>
<path d="M42.60,40.80 h13.8" stroke="#ff0000" stroke-width="1.5" fill="none"/>
<text x="62.30" y="44.30" font-size="13.00" xml:space="preserve"><tspan font-style="italic">λ</tspan><tspan dy="0.8">= −</tspan><tspan dy="-0.8">0.19</tspan></text>
<path d="M42.60,59.40 h13.8" stroke="#996633" stroke-width="1.5" fill="none"/>
<text x="62.30" y="62.90" font-size="13.00" xml:space="preserve"><tspan font-style="italic">λ</tspan><tspan dy="0.8">= −</tspan><tspan dy="-0.8">0.10</tspan></text>
<path d="M42.60,77.90 h13.8" stroke="#ff00ff" stroke-width="1.5" fill="none"/>
<text x="62.30" y="81.40" font-size="13.00" xml:space="preserve"><tspan font-style="italic">λ</tspan><tspan dy="0.8">= −</tspan><tspan dy="-0.8">0.05</tspan></text>
<path d="M121.20,22.30 h13.8" stroke="#ff8000" stroke-width="1.5" fill="none"/>
<text x="140.30" y="25.80" font-size="13.00" xml:space="preserve"><tspan font-style="italic">λ</tspan><tspan dy="0.8">= −</tspan><tspan dy="-0.8">0.03</tspan></text>
<path d="M121.20,40.80 h13.8" stroke="#808080" stroke-width="1.5" fill="none"/>
<text x="140.30" y="44.30" font-size="13.00" xml:space="preserve"><tspan font-style="italic">λ</tspan><tspan dy="0.8">= −</tspan><tspan dy="-0.8">0.01</tspan></text>
<path d="M121.20,59.40 h13.8" stroke="#00a800" stroke-width="1.5" fill="none"/>
<text x="140.30" y="62.90" font-size="13.00" xml:space="preserve"><tspan font-style="italic">λ</tspan><tspan dy="0.8">= </tspan><tspan dy="-0.8">0.05</tspan></text>
</svg>
</body></html>
